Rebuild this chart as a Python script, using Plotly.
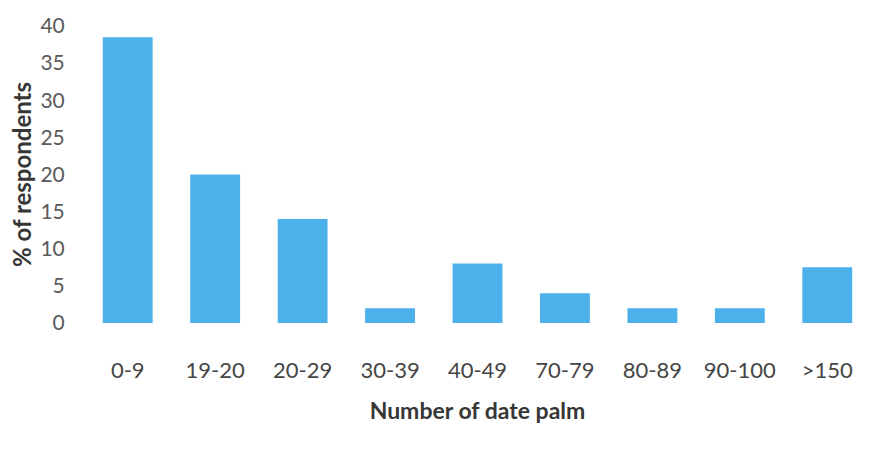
import plotly.graph_objects as go

categories = ["0-9", "19-20", "20-29", "30-39", "40-49", "70-79", "80-89", "90-100", ">150"]
values = [38.5, 20, 14, 2, 8, 4, 2, 2, 7.5]
y_ticks = [0, 5, 10, 15, 20, 25, 30, 35, 40]

fig = go.Figure(go.Bar(x=categories, y=values, marker=dict(color="#4cb1ea", line=dict(width=0))))

font_family = "Lato, Open Sans, sans-serif"
fig.update_layout(
    width=890, height=472,
    margin=dict(l=84, r=19, t=23, b=149),
    paper_bgcolor="white", plot_bgcolor="white",
    bargap=0.43,
    showlegend=False,
    font=dict(family=font_family, color="#555555"),
)
fig.update_xaxes(
    type="category",
    showgrid=False, showline=False, zeroline=False,
    ticks="outside", ticklen=28, tickcolor="rgba(0,0,0,0)",
    tickfont=dict(size=22, color="#454545"),
    title=dict(text="<b>Number of date palm</b>", font=dict(size=23, color="#363636"), standoff=20),
)
fig.update_yaxes(
    range=[0, 40], tickvals=y_ticks,
    showgrid=False, showline=False, zeroline=False,
    ticks="outside", ticklen=14, tickcolor="rgba(0,0,0,0)",
    tickfont=dict(size=21, color="#5a5a5a"),
    title=dict(text="<b>% of respondents</b>", font=dict(size=24, color="#363636"), standoff=2),
)

fig.write_html("out.html")
